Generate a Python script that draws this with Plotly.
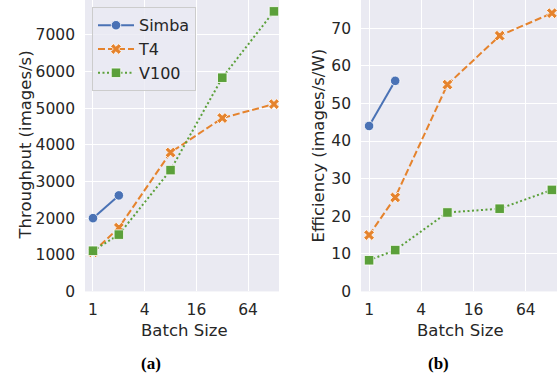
import plotly.graph_objects as go

batch = [1, 2, 8, 32, 128]
simba_batch = [1, 2]

simba_tput = [2000, 2620]
t4_tput = [1070, 1740, 3790, 4730, 5110]
v100_tput = [1110, 1550, 3310, 5830, 7640]

simba_eff = [44, 56]
t4_eff = [15, 25, 55, 68, 74]
v100_eff = [8.3, 11, 21, 22, 27]

xticks = [1, 4, 16, 64]
ytick_a = [0, 1000, 2000, 3000, 4000, 5000, 6000, 7000]
ytick_b = [0, 10, 20, 30, 40, 50, 60, 70]

W, H = 557, 381
BLUE = "#4A72B5"
ORANGE = "#E5832D"
GREEN = "#5BA03A"
TXT = "#262626"
FONT = "DejaVu Sans"

fig = go.Figure()

def add(x, y, name, color, dash, symbol, xa, ya, show):
    fig.add_trace(go.Scatter(
        x=x, y=y, name=name, mode="lines+markers",
        line=dict(color=color, width=2, dash=dash),
        marker=dict(symbol=symbol, size=9.5, color=color,
                    line=dict(color="white", width=0.8)),
        xaxis=xa, yaxis=ya, showlegend=show))

add(simba_batch, simba_tput, "Simba", BLUE, "solid", "circle", "x", "y", True)
add(batch, t4_tput, "T4", ORANGE, "7px,3px", "x", "x", "y", True)
add(batch, v100_tput, "V100", GREEN, "2px,2.5px", "square", "x", "y", True)
add(simba_batch, simba_eff, "Simba", BLUE, "solid", "circle", "x2", "y2", False)
add(batch, t4_eff, "T4", ORANGE, "7px,3px", "x", "x2", "y2", False)
add(batch, v100_eff, "V100", GREEN, "2px,2.5px", "square", "x2", "y2", False)

def px(v):
    return v / W

def py(v):
    return 1 - v / H

xr = [-0.093, 2.166]
axis_common = dict(showgrid=True, gridcolor="white", gridwidth=1.3, zeroline=False,
                   showline=False, ticks="", tickfont=dict(family=FONT, size=15.5, color=TXT))

fig.update_layout(
    width=W, height=H, margin=dict(l=0, r=0, t=0, b=0),
    paper_bgcolor="white", plot_bgcolor="#EAEAF2",
    font=dict(family=FONT, color=TXT),
    xaxis=dict(domain=[px(85), px(279)], type="log", range=xr, tickvals=xticks,
               ticktext=[str(v) for v in xticks], anchor="y", ticklabelstandoff=7, **axis_common),
    yaxis=dict(domain=[py(298.5), 1], range=[0, 7950], tickvals=ytick_a, anchor="x",
               ticklabelstandoff=9, **axis_common),
    xaxis2=dict(domain=[px(361), 1], type="log", range=xr, tickvals=xticks,
                ticktext=[str(v) for v in xticks], anchor="y2", ticklabelstandoff=7, **axis_common),
    yaxis2=dict(domain=[py(298.5), 1], range=[0, 77.5], tickvals=ytick_b, anchor="x2",
                ticklabelstandoff=9, **axis_common),
    legend=dict(x=px(92), y=py(7.5), xanchor="left", yanchor="top",
                bgcolor="rgba(234,234,242,0.8)", bordercolor="#CCCCCC", borderwidth=1,
                font=dict(family=FONT, size=16, color=TXT), tracegroupgap=0,
                itemwidth=36),
)

ann = []
def text(x, y, s, size=16.5, angle=0, family=FONT, bold=False):
    ann.append(dict(x=px(x), y=py(y), xref="paper", yref="paper", text=("<b>%s</b>" % s) if bold else s,
                    showarrow=False, textangle=angle, xanchor="center", yanchor="middle",
                    font=dict(family=family, size=size, color=TXT if not bold else "black")))

text(25, 149, "Throughput (images/s)", angle=-90)
text(318, 149, "Efficiency (images/s/W)", angle=-90)
text(184, 338, "Batch Size")
text(460, 338, "Batch Size")
text(151, 372, "(a)", size=17, family="Liberation Serif", bold=True)
text(438, 372, "(b)", size=17, family="Liberation Serif", bold=True)
fig.update_layout(annotations=ann)

fig.write_html("out.html")
